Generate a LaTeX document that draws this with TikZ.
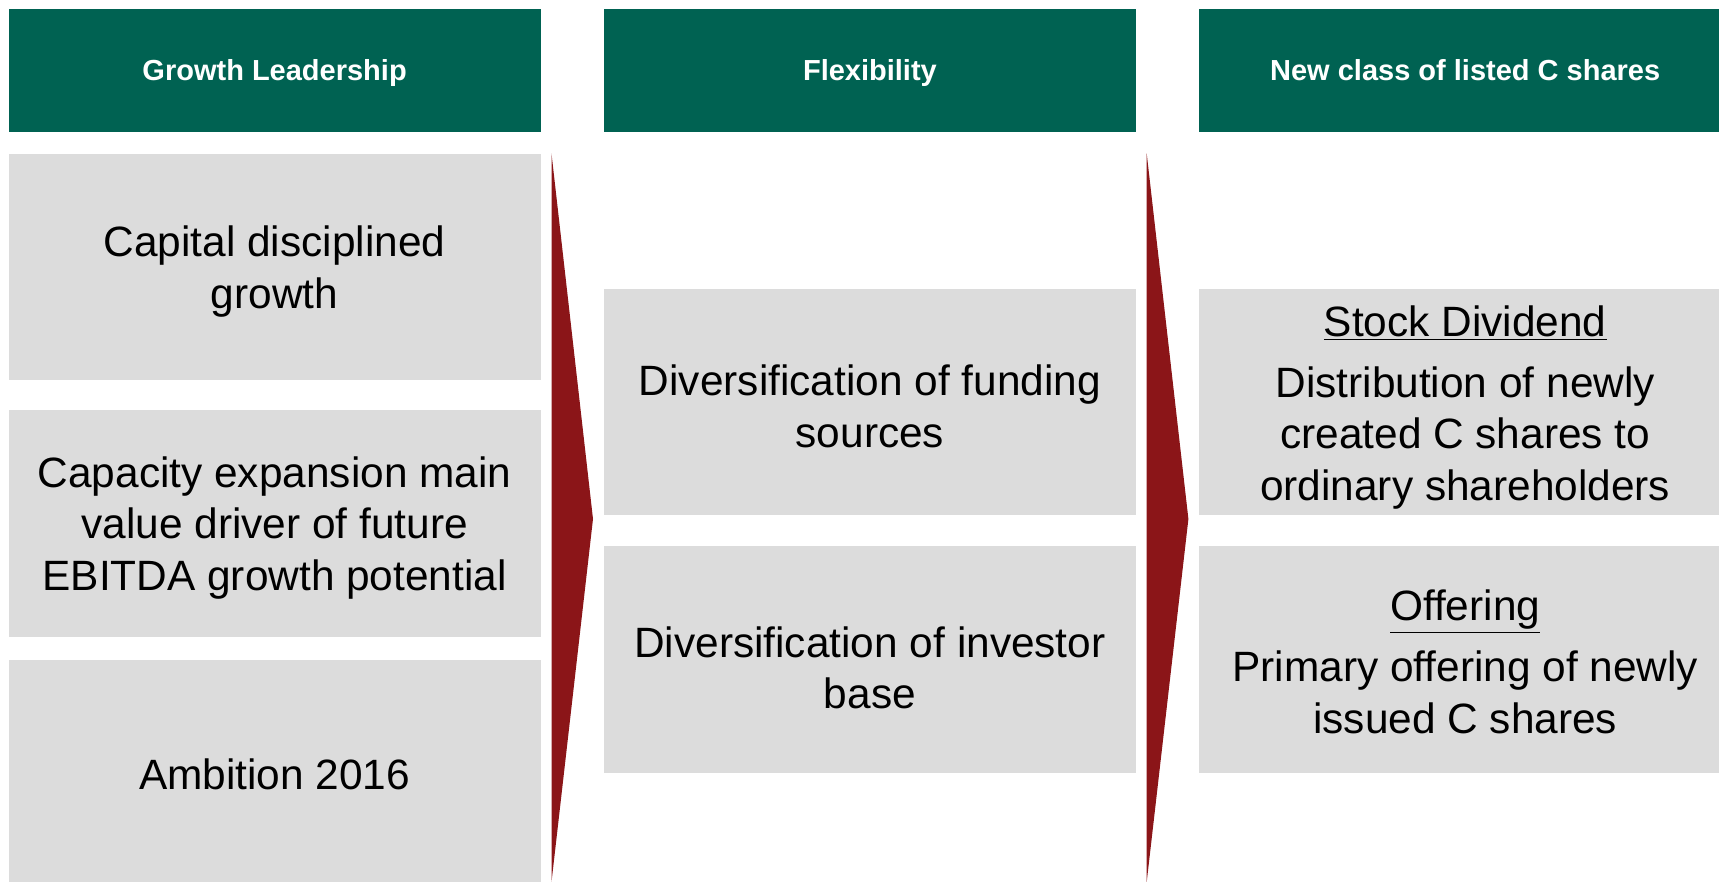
\documentclass[tikz,border=0pt]{standalone}
\usepackage{fontspec}
\setmainfont{Liberation Sans}
\definecolor{hdrgreen}{RGB}{0,98,82}
\definecolor{boxgray}{RGB}{220,220,220}
\definecolor{arrred}{RGB}{139,21,24}
\tikzset{
  hdr/.style={fill=hdrgreen, draw=none, text=white, font=\fontsize{14.5}{17}\selectfont\bfseries, align=center, inner sep=0pt, minimum height=61.4pt, text depth=0pt},
  gbox/.style={fill=boxgray, draw=none, inner sep=0pt, minimum width=265.9pt},
  gtxt/.style={text=black, font=\fontsize{21.2}{25.8}\selectfont, align=center, inner sep=0pt},
  chev/.style={fill=arrred, draw=none}
}
\begin{document}
\begin{tikzpicture}[x=0.5pt,y=-0.5pt]
\useasboundingbox (0,0) rectangle (1719,882);
% headers
\node[hdr, minimum width=265.9pt] (h1) at (274.6,70.2) {Growth Leadership};
\node[hdr, minimum width=265.9pt] (h2) at (869.9,70.2) {Flexibility};
\node[hdr, minimum width=265.9pt] (h3) at (1465.2,70.2) {New class of listed C shares};
% left column
\node[gbox, minimum height=113.4pt] (l1) at (274.6,267) {};
\node[gbox, minimum height=113.5pt] (l2) at (274.6,523.5) {};
\node[gbox, minimum height=111pt] (l3) at (274.6,771) {};
\node[gtxt] (l1t) at ([yshift=-2.2pt]l1.center) {Capital disciplined\\growth};
\node[gtxt] (l2t) at ([yshift=-2.2pt]l2.center) {Capacity expansion main\\value driver of future\\EBITDA growth potential};
\node[gtxt] (l3t) at ([yshift=-1.8pt]l3.center) {Ambition 2016};
% middle column
\node[gbox, minimum height=113pt] (m1) at (869.9,402.3) {};
\node[gbox, minimum height=113.5pt] (m2) at (869.9,659.5) {};
\node[gtxt] (m1t) at ([yshift=-2pt]m1.center) {Diversification of funding\\sources};
\node[gtxt] (m2t) at ([yshift=-4.2pt]m2.center) {Diversification of investor\\base};
% right column
\node[gbox, minimum height=113pt] (r1) at (1465.2,402.3) {};
\node[gbox, minimum height=113.5pt] (r2) at (1465.2,659.5) {};
\node[gtxt] (r1t) at ([yshift=-2.6pt]r1.center) {\underline{Stock Dividend}\\[4.5pt]Distribution of newly\\created C shares to\\ordinary shareholders};
\node[gtxt] (r2t) at ([yshift=-1.2pt]r2.center) {\underline{Offering}\\[4.5pt]Primary offering of newly\\issued C shares};
% chevrons
\coordinate (a1t) at (551.5,153.5);
\coordinate (a1p) at (593,519);
\coordinate (a1b) at (551.5,882);
\coordinate (a2t) at (1146.7,153.5);
\coordinate (a2p) at (1188.4,519);
\coordinate (a2b) at (1146.7,882);
\fill[chev] (a1t) -- (a1p) -- (a1b) -- cycle;
\fill[chev] (a2t) -- (a2p) -- (a2b) -- cycle;
\end{tikzpicture}
\end{document}
